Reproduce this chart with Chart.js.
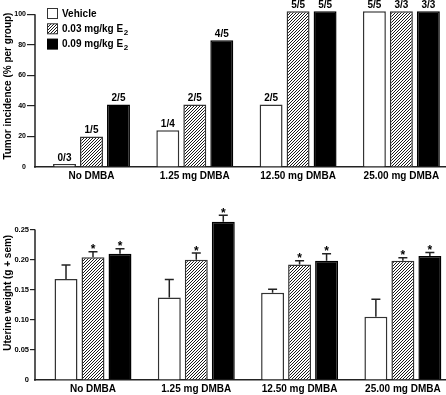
<!DOCTYPE html>
<html>
<head>
<meta charset="utf-8">
<script src="https://cdn.jsdelivr.net/npm/chart.js@4.4.0/dist/chart.umd.min.js"></script>
<style>
  html, body { margin: 0; padding: 0; background: #fff; overflow: hidden; }
  #topBox { position: absolute; left: 0; top: 0; width: 446px; height: 200px; }
  #botBox { position: absolute; left: 0; top: 200px; width: 446px; height: 195px; }
</style>
</head>
<body>
<div id="topBox"><canvas id="incChart"></canvas></div>
<div id="botBox"><canvas id="uwChart"></canvas></div>
<script>
// groups on the x axis
const groups = ["No DMBA", "1.25 mg DMBA", "12.50 mg DMBA", "25.00 mg DMBA"];
// legend text, subscript part kept apart
const seriesNames = ["Vehicle", "0.03 mg/kg E", "0.09 mg/kg E"];
const seriesSubs = ["", "2", "2"];

// tumor incidence (% per group)
const incVehicle = [2, 24, 41, 102];
const incLow = [20, 41, 102, 102];
const incHigh = [41, 83, 102, 102];
const fracVehicle = ["0/3", "1/4", "2/5", "5/5"];
const fracLow = ["1/5", "2/5", "5/5", "3/3"];
const fracHigh = ["2/5", "4/5", "5/5", "3/3"];
const incTicks = [0, 20, 40, 60, 80, 100];

// uterine weight (g + sem)
const uwVehicle = [0.168, 0.137, 0.145, 0.105];
const uwLow = [0.204, 0.200, 0.192, 0.198];
const uwHigh = [0.210, 0.263, 0.198, 0.206];
const semVehicle = [0.023, 0.030, 0.006, 0.029];
const semLow = [0.009, 0.011, 0.006, 0.005];
const semHigh = [0.008, 0.011, 0.012, 0.006];
const starVehicle = [false, false, false, false];
const starLow = [true, true, true, true];
const starHigh = [true, true, true, true];
const uwTicks = [0, 0.05, 0.10, 0.15, 0.20, 0.25];

Chart.defaults.font.family = "'Liberation Sans', Arial, sans-serif";
Chart.defaults.font.weight = "bold";
Chart.defaults.color = "#000";

function makeHatch(ctx) {
  const tile = document.createElement("canvas");
  tile.width = 3; tile.height = 3;
  const g = tile.getContext("2d");
  g.fillStyle = "#fff";
  g.fillRect(0, 0, 3, 3);
  g.strokeStyle = "#000";
  g.lineWidth = 0.9;
  g.beginPath();
  g.moveTo(0, 3); g.lineTo(3, 0);
  g.moveTo(-1, 1); g.lineTo(1, -1);
  g.moveTo(2, 4); g.lineTo(4, 2);
  g.stroke();
  return ctx.createPattern(tile, "repeat");
}

function toPoints(arr) {
  return arr.map((v, i) => ({ x: i, y: v }));
}

function makeDatasets(ctx, a, b, c) {
  const hatch = makeHatch(ctx);
  return [
    { label: seriesNames[0], data: toPoints(a), backgroundColor: "#fff", borderColor: "#333", borderWidth: 1.5 },
    { label: seriesNames[1], data: toPoints(b), backgroundColor: hatch, borderColor: "#333", borderWidth: 1.5 },
    { label: seriesNames[2], data: toPoints(c), backgroundColor: "#000", borderColor: "#000", borderWidth: 1.5 }
  ];
}

// plain left axis line that stops at the highest tick
const axisLine = {
  id: "axisLine",
  afterDraw(chart) {
    const { ctx, chartArea, scales } = chart;
    const y = scales.y;
    const topVal = y.ticks[y.ticks.length - 1].value;
    ctx.save();
    ctx.strokeStyle = "#222";
    ctx.lineWidth = 1.5;
    ctx.beginPath();
    ctx.moveTo(chartArea.left, y.getPixelForValue(0) + 0.75);
    ctx.lineTo(chartArea.left, y.getPixelForValue(topVal));
    ctx.stroke();
    ctx.restore();
  }
};

const legendBoxes = {
  id: "legendBoxes",
  afterDraw(chart) {
    const ctx = chart.ctx;
    ctx.save();
    chart.data.datasets.forEach((ds, i) => {
      const bx = 47.5, by = 8.5 + i * 15.3;
      ctx.fillStyle = ds.backgroundColor;
      ctx.fillRect(bx, by, 10, 10);
      ctx.strokeStyle = ds.borderColor;
      ctx.lineWidth = 1;
      ctx.strokeRect(bx, by, 10, 10);
      ctx.fillStyle = "#000";
      ctx.textBaseline = "middle";
      ctx.textAlign = "left";
      ctx.font = "bold 10px 'Liberation Sans', Arial, sans-serif";
      ctx.fillText(seriesNames[i], 62, by + 5.5);
      if (seriesSubs[i]) {
        const w = ctx.measureText(seriesNames[i]).width;
        ctx.font = "bold 8px 'Liberation Sans', Arial, sans-serif";
        ctx.fillText(seriesSubs[i], 62 + w + 0.5, by + 8.5);
      }
    });
    ctx.restore();
  }
};

const fracLabels = {
  id: "fracLabels",
  afterDatasetsDraw(chart) {
    const ctx = chart.ctx;
    const all = [fracVehicle, fracLow, fracHigh];
    ctx.save();
    ctx.fillStyle = "#000";
    ctx.font = "bold 10px 'Liberation Sans', Arial, sans-serif";
    ctx.textAlign = "center";
    ctx.textBaseline = "bottom";
    chart.data.datasets.forEach((ds, d) => {
      chart.getDatasetMeta(d).data.forEach((bar, i) => {
        ctx.fillText(all[d][i], bar.x, bar.y - 1);
      });
    });
    ctx.restore();
  }
};

const semBars = {
  id: "semBars",
  afterDatasetsDraw(chart) {
    const ctx = chart.ctx;
    const y = chart.scales.y;
    const sems = [semVehicle, semLow, semHigh];
    const stars = [starVehicle, starLow, starHigh];
    ctx.save();
    ctx.strokeStyle = "#222";
    ctx.lineWidth = 1.5;
    chart.data.datasets.forEach((ds, d) => {
      chart.getDatasetMeta(d).data.forEach((bar, i) => {
        const v = ds.data[i].y;
        const cap = y.getPixelForValue(v + sems[d][i]);
        ctx.beginPath();
        ctx.moveTo(bar.x, bar.y);
        ctx.lineTo(bar.x, cap);
        ctx.moveTo(bar.x - 4.5, cap);
        ctx.lineTo(bar.x + 4.5, cap);
        ctx.stroke();
        if (stars[d][i]) {
          ctx.fillStyle = "#000";
          ctx.font = "bold 12px 'Liberation Sans', Arial, sans-serif";
          ctx.textAlign = "center";
          ctx.textBaseline = "alphabetic";
          ctx.fillText("*", bar.x, cap + 1.5);
        }
      });
    });
    ctx.restore();
  }
};

function baseOptions(opts) {
  return {
    responsive: true,
    maintainAspectRatio: false,
    animation: false,
    devicePixelRatio: 1,
    layout: { padding: { top: 5, right: 0, left: 0, bottom: 0 } },
    plugins: { legend: { display: false }, tooltip: { enabled: false } },
    datasets: { bar: { categoryPercentage: 0.784, barPercentage: 0.85 } },
    scales: {
      x: {
        type: "linear",
        offset: false,
        min: opts.xMin,
        max: opts.xMin + 3.979,
        afterBuildTicks: s => { s.ticks = groups.map((g, i) => ({ value: i })); },
        afterFit: s => { s.height = opts.xHeight; },
        ticks: {
          autoSkip: false, maxRotation: 0, padding: 3,
          font: { size: 10, weight: "bold" },
          callback: v => groups[v]
        },
        grid: { display: false, drawTicks: false },
        border: { display: true, color: "#222", width: 1.5 }
      },
      y: {
        min: 0,
        max: opts.yMax,
        afterBuildTicks: s => { s.ticks = opts.ticks.map(v => ({ value: v })); },
        afterFit: s => { s.width = 35; },
        ticks: {
          padding: 1,
          font: { size: opts.tickSize, weight: "bold" },
          callback: opts.fmt
        },
        grid: {
          display: true, drawOnChartArea: false, drawTicks: true,
          tickLength: opts.tickLen, lineWidth: 1.2,
          color: c => (c.tick && c.tick.value === 0 ? "rgba(0,0,0,0)" : "#222")
        },
        border: { display: false },
        title: {
          display: true, text: opts.title, padding: { top: 2, bottom: 0 },
          font: { size: 10, weight: "bold" }
        }
      }
    }
  };
}

const incCanvas = document.getElementById("incChart");
new Chart(incCanvas, {
  type: "bar",
  data: { datasets: makeDatasets(incCanvas.getContext("2d"), incVehicle, incLow, incHigh) },
  options: baseOptions({
    xMin: -0.547, xHeight: 33, yMax: 106, ticks: incTicks, tickSize: 7, tickLen: 8,
    fmt: v => String(v), title: "Tumor incidence (% per group)"
  }),
  plugins: [axisLine, fracLabels, legendBoxes]
});

const uwCanvas = document.getElementById("uwChart");
new Chart(uwCanvas, {
  type: "bar",
  data: { datasets: makeDatasets(uwCanvas.getContext("2d"), uwVehicle, uwLow, uwHigh) },
  options: baseOptions({
    xMin: -0.5615, xHeight: 15, yMax: 0.29, ticks: uwTicks, tickSize: 7.5, tickLen: 5,
    fmt: v => (v === 0 ? "0" : v.toFixed(2)), title: "Uterine weight (g + sem)"
  }),
  plugins: [axisLine, semBars]
});
</script>
</body>
</html>
